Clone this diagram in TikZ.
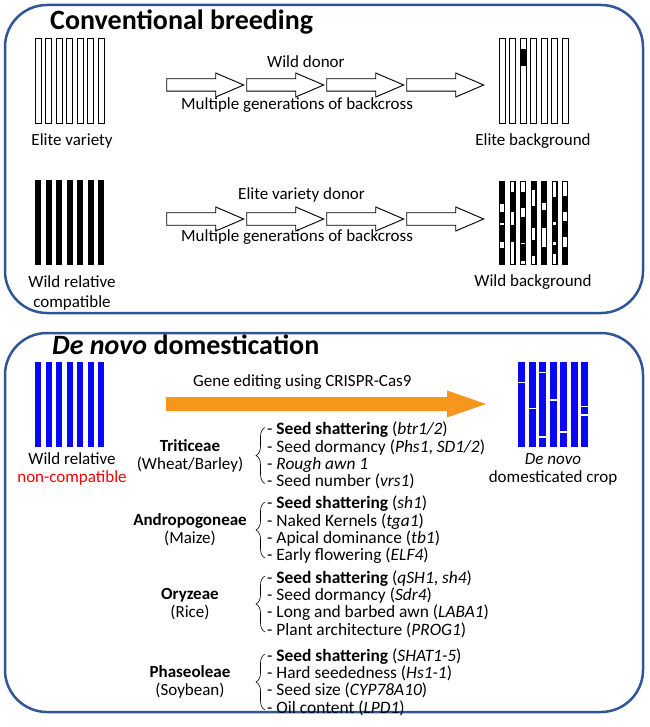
\documentclass[tikz,border=0pt]{standalone}
\usepackage{fontspec}
\setmainfont{Carlito}
\usetikzlibrary{decorations.pathreplacing}
\definecolor{panelblue}{RGB}{47,85,151}
\definecolor{chromblue}{RGB}{8,8,245}
\definecolor{editorange}{RGB}{247,150,29}
\begin{document}
\begin{tikzpicture}[x=1pt, y=-1pt,
	panelstyle/.style={draw=panelblue, line width=2.5pt, rounded corners=42pt},
	titlestyle/.style={font=\fontsize{28}{30}\selectfont\bfseries, inner sep=0pt, anchor=west},
	labelstyle/.style={font=\fontsize{17}{18}\selectfont, align=center, inner sep=0pt},
	arrowlabel/.style={font=\fontsize{17}{18}\selectfont, inner sep=0pt, anchor=west},
	liststyle/.style={font=\fontsize{17.4}{17.3}\selectfont, align=left, inner sep=0pt, anchor=west},
	bracestyle/.style={decorate, decoration={brace, amplitude=9pt}, line width=0.6pt},
	hollowbar/.style={draw, line width=1pt, fill=white},
	backxarrow/.style={draw, line width=0.9pt, fill=white}]
	\def \pitch {10.5}
	\useasboundingbox (0,0) rectangle (649,727);

	\draw[panelstyle] (5,5) rectangle (643,313);
	\draw[panelstyle] (5,333) rectangle (643,712);

	\foreach \i in {0,...,6} {
		\draw[hollowbar] ({35+\pitch*\i},38.5) rectangle +(6,85);
		\draw[hollowbar] ({499+\pitch*\i},38.5) rectangle +(6,85);
		\fill ({35+\pitch*\i},180) rectangle +(6,85);
		\fill ({499+\pitch*\i},181) rectangle +(6,84);
		\fill[chromblue] ({35+\pitch*\i},362) rectangle +(6,85);
		\fill[chromblue] ({518+\pitch*\i},362) rectangle +(7,85);
	};
	\fill ({499+2*\pitch},49.5) rectangle +(6,16.7);
	\foreach \i/\a/\b in {0/22.6/31.5, 0/41.5/44.2, 0/61.4/67.4, 1/1.3/10.6, 1/31.5/44.2, 1/61.4/82.7,
		2/1.3/11, 2/27.2/35.9, 2/62.1/63.3, 2/79.7/82.7, 3/9/24.9, 3/46.5/58.8, 3/74.7/82.7,
		4/22.2/28.9, 4/46.5/66.4, 5/1.3/15.6, 5/40.8/44.2, 5/60.8/63.7, 5/73/82.7,
		6/1.3/14.9, 6/30.9/40.2, 6/56.4/66.4} {
		\fill[white] ({499+\pitch*\i+1.4},{181+\a}) rectangle ({499+\pitch*\i+4.6},{181+\b});
	};
	\foreach \i/\a in {0/20.7, 1/46.3, 2/10.7, 2/75, 3/38, 4/70, 6/44.7, 6/53} {
		\fill[white] ({518+\pitch*\i},{362+\a-0.7}) rectangle +(7,1.4);
	};

	\foreach \y in {85,219}
		\foreach \s in {0,...,3} {
			\draw[backxarrow] ({166.7+80*\s},{\y-6.2}) -- ++(49,0) -- ++(0,-5.8) -- ++(28,12)
			-- ++(-28,12) -- ++(0,-5.8) -- ++(-49,0) -- cycle;
		};
	\fill[editorange] (166,397) -- (447,397) -- (447,390.5) -- (486,404)
		-- (447,417.5) -- (447,411) -- (166,411) -- cycle;

	\node[titlestyle] (convtitle) at (50,22) {Conventional breeding};
	\node[labelstyle] (elite) at (72,141) {Elite variety};
	\node[arrowlabel] (donor1) at (267,62) {Wild donor};
	\node[arrowlabel] (gen1) at (181,105) {Multiple generations of backcross};
	\node[labelstyle] (elitebg) at (533,141) {Elite background};
	\node[labelstyle] (wildrel) at (72,293) {Wild relative\\[2pt]compatible};
	\node[arrowlabel] (donor2) at (238,195) {Elite variety donor};
	\node[arrowlabel] (gen2) at (181,237) {Multiple generations of backcross};
	\node[labelstyle] (wildbg) at (533,282) {Wild background};

	\node[titlestyle] (dntitle) at (52,345) {\textit{De novo} domestication};
	\node[labelstyle] (wildnc) at (72,469) {Wild relative\\\textcolor{red}{non-compatible}};
	\node[arrowlabel] (crispr) at (193,382) {Gene editing using CRISPR-Cas9};
	\node[labelstyle] (dncrop) at (553,469) {\textit{De novo}\\domesticated crop};

	\foreach \yy/\grp/\items [count=\g] in {
		455.5/{\textbf{Triticeae}\\(Wheat/Barley)}/{- \textbf{Seed shattering} (\textit{btr1/2})\\- Seed dormancy (\textit{Phs1}, \textit{SD1/2})\\- \textit{Rough awn 1}\\- Seed number (\textit{vrs1})},
		530/{\textbf{Andropogoneae}\\(Maize)}/{- \textbf{Seed shattering} (\textit{sh1})\\- Naked Kernels (\textit{tga1})\\- Apical dominance (\textit{tb1})\\- Early flowering (\textit{ELF4})},
		604/{\textbf{Oryzeae}\\(Rice)}/{- \textbf{Seed shattering} (\textit{qSH1}, \textit{sh4})\\- Seed dormancy (\textit{Sdr4})\\- Long and barbed awn (\textit{LABA1})\\- Plant architecture (\textit{PROG1})},
		682/{\textbf{Phaseoleae}\\(Soybean)}/{- \textbf{Seed shattering} (\textit{SHAT1-5})\\- Hard seededness (\textit{Hs1-1})\\- Seed size (\textit{CYP78A10})\\- Oil content (\textit{LPD1})}} {
		\node[liststyle] (list\g) at (267,\yy) {\items};
		\node[labelstyle] (group\g) at (190,\yy) {\grp};
		\draw[bracestyle] ([xshift=-2pt, yshift=-28pt]list\g.west) -- ([xshift=-2pt, yshift=28pt]list\g.west);
	};
\end{tikzpicture}
\end{document}
